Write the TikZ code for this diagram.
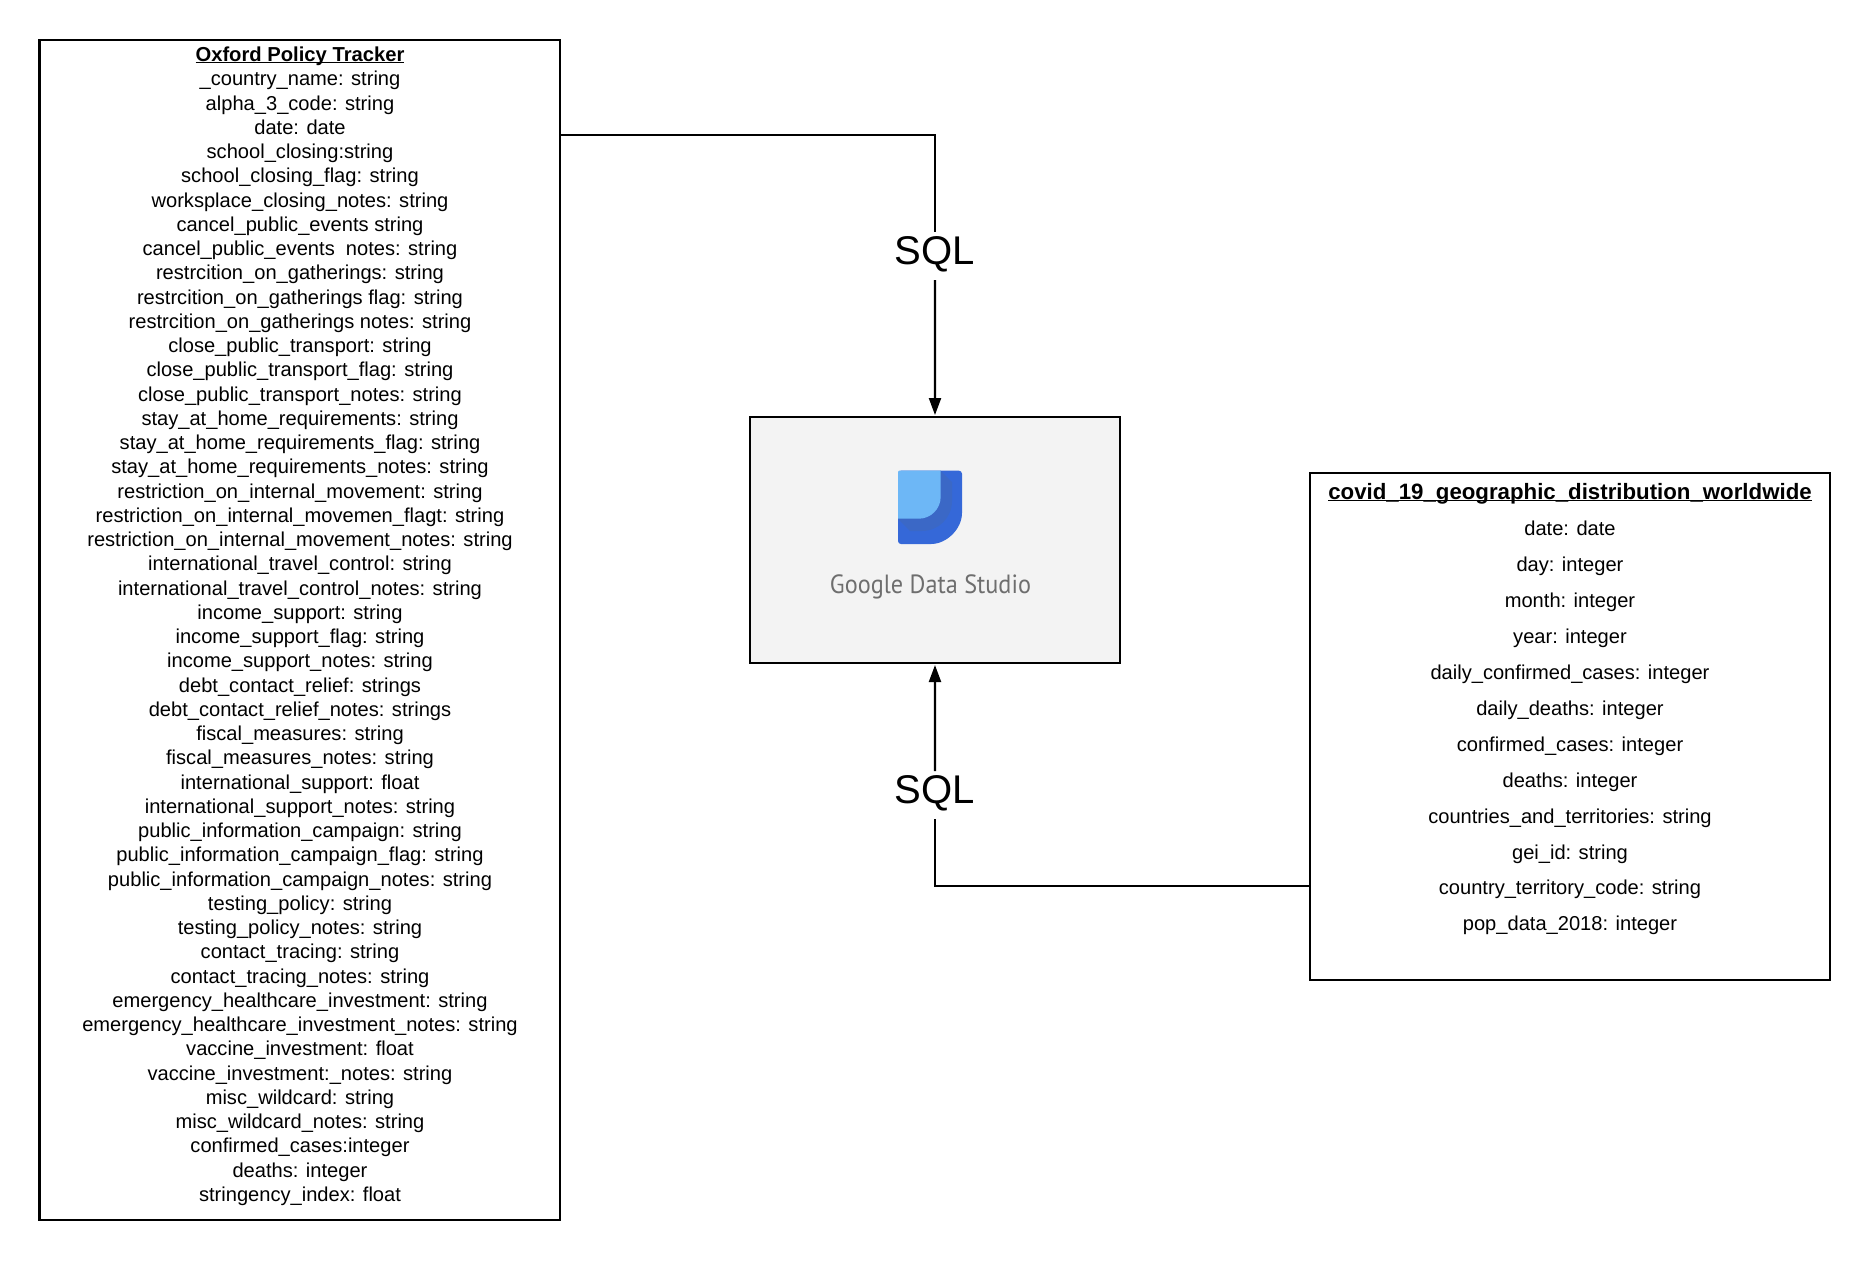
\documentclass[tikz,border=0pt]{standalone}
\usepackage{fontspec}
\setmainfont{Liberation Sans}
\newfontfamily\studiofont[FakeStretch=0.92]{PT Sans}
\usepackage{tikz}
\usetikzlibrary{arrows.meta}
\definecolor{studiobg}{HTML}{F3F3F3}
\definecolor{logodark}{HTML}{3568D8}
\definecolor{logoshade}{HTML}{3B68C6}
\definecolor{logolight}{HTML}{6DB7F6}
\definecolor{logotext}{HTML}{6E6E6E}
% underline that runs through the descenders
\newcommand{\headline}[1]{\setbox0=\hbox{#1}\rlap{\rule[-.6pt]{\wd0}{.35pt}}\box0}
\tikzset{
  tablebox/.style={draw=black,line width=0.6pt,anchor=north west,inner sep=0pt,outer sep=0pt},
  rowtext/.style={anchor=base,inner sep=0pt,font=\fontsize{5.72pt}{7pt}\selectfont},
  headtext/.style={anchor=base,inner sep=0pt,font=\fontsize{5.75pt}{7pt}\selectfont\bfseries},
  bighead/.style={headtext,font=\fontsize{6.33pt}{8pt}\selectfont\bfseries},
  sqltext/.style={inner xsep=0pt,inner ysep=0pt,outer sep=0pt,text height=.32cm,text depth=.16cm,font=\fontsize{11.4pt}{13pt}\selectfont},
  link/.style={line width=0.6pt},
  linkarrow/.style={line width=0.6pt,-{Triangle[length=.17cm,width=.12cm]},shorten >=.02cm}
}
\begin{document}
\begin{tikzpicture}
\useasboundingbox (0,0) rectangle (18.69,-12.6);
\node[tablebox,minimum width=5.205cm,minimum height=11.8cm] (oxford) at (0.395,-0.4) {};
\node[tablebox,minimum width=5.2cm,minimum height=5.07cm] (covid) at (13.1,-4.73) {};
\node[tablebox,fill=studiobg,minimum width=3.7cm,minimum height=2.46cm] (studio) at (7.5,-4.17) {};

\node[headtext] (oxfordhead) at (3.0,-0.61) {\headline{Oxford Policy Tracker}};
\foreach \row [count=\i from 1] in {%
\_country\_name: string, alpha\_3\_code: string, date: date, school\_closing:string,
school\_closing\_flag: string, worksplace\_closing\_notes: string, cancel\_public\_events string,
cancel\_public\_events\ \ notes: string, restrcition\_on\_gatherings: string,
restrcition\_on\_gatherings flag: string, restrcition\_on\_gatherings notes: string,
close\_public\_transport: string, close\_public\_transport\_flag: string,
close\_public\_transport\_notes: string, stay\_at\_home\_requirements: string,
stay\_at\_home\_requirements\_flag: string, stay\_at\_home\_requirements\_notes: string,
restriction\_on\_internal\_movement: string, restriction\_on\_internal\_movemen\_flagt: string,
restriction\_on\_internal\_movement\_notes: string, international\_travel\_control: string,
international\_travel\_control\_notes: string, income\_support: string,
income\_support\_flag: string, income\_support\_notes: string, debt\_contact\_relief: strings,
debt\_contact\_relief\_notes: strings, fiscal\_measures: string, fiscal\_measures\_notes: string,
international\_support: float, international\_support\_notes: string,
public\_information\_campaign: string, public\_information\_campaign\_flag: string,
public\_information\_campaign\_notes: string, testing\_policy: string, testing\_policy\_notes: string,
contact\_tracing: string, contact\_tracing\_notes: string, emergency\_healthcare\_investment: string,
emergency\_healthcare\_investment\_notes: string, vaccine\_investment: float,
vaccine\_investment:\_notes: string, misc\_wildcard: string, misc\_wildcard\_notes: string,
confirmed\_cases:integer, deaths: integer, stringency\_index: float}
\node[rowtext] (oxford\i) at (3.0,{-0.616-\i*0.2425}) {\row};

\node[bighead] (covidhead) at (15.7,-4.99) {\headline{covid\_19\_geographic\_distribution\_worldwide}};
\foreach \row [count=\i from 1] in {%
date: date, day: integer, month: integer, year: integer, daily\_confirmed\_cases: integer,
daily\_deaths: integer, confirmed\_cases: integer, deaths: integer,
countries\_and\_territories: string, gei\_id: string, country\_territory\_code: string,
pop\_data\_2018: integer}
\node[rowtext] (covid\i) at (15.7,{-5.0-\i*0.359}) {\row};

% logo
\fill[logodark,rounded corners=.03cm] (8.98,-4.707) -- (9.62,-4.707) -- (9.62,-5.1)
  arc[start angle=0,end angle=-90,radius=.34] -- (8.98,-5.44) -- cycle;
\fill[logoshade] (9.407,-4.707) -- (9.52,-4.82) -- (9.52,-5.01) arc[start angle=0,end angle=-90,radius=.30] -- (9.10,-5.31) -- (8.98,-5.187) -- cycle;
\fill[logolight] (8.99,-4.707) -- (9.407,-4.707) -- (9.407,-4.967) arc[start angle=0,end angle=-90,radius=.22] -- (8.98,-5.187) -- (8.98,-4.72) -- cycle;
\node[inner sep=0pt,text=logotext,font=\studiofont\fontsize{7.5pt}{9pt}\selectfont] (studiolabel) at (9.305,-5.865) {Google Data Studio};

% connectors
\coordinate (oxfordout) at (5.6,-1.35);
\coordinate (covidout) at (13.1,-8.86);
\node[sqltext] (sqltop) at (9.35,-2.56) {SQL};
\node[sqltext] (sqlbottom) at (9.35,-7.95) {SQL};
\draw[link] (oxfordout) -| (sqltop.north);
\draw[linkarrow] (sqltop.south) -- (studio.north);
\draw[link] (covidout) -| (sqlbottom.south);
\draw[linkarrow] (sqlbottom.north) -- (studio.south);
\end{tikzpicture}
\end{document}
